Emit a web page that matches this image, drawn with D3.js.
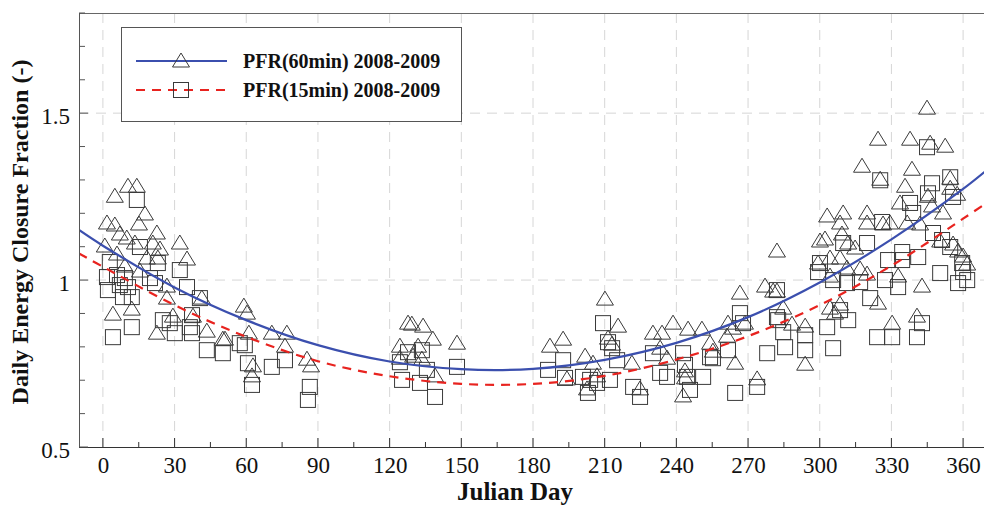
<!DOCTYPE html>
<html>
<head>
<meta charset="utf-8">
<script src="https://cdn.jsdelivr.net/npm/d3@7"></script>
<style>
html,body{margin:0;padding:0;background:#fff;}
svg{display:block;}
text{font-family:"Liberation Serif","Times New Roman",serif;}
</style>
</head>
<body>
<svg id="chart" width="984" height="508"></svg>
<script>
// ---- Data ----
const pfr60 = [
 [5.0,1.254],[10.5,1.284],[14.2,1.284],[17.6,1.201],[1.7,1.174],[5.0,1.168],[15.1,1.171],[22.6,1.144],
 [7.1,1.141],[10.0,1.129],[0.8,1.105],[13.4,1.114],[20.9,1.114],[23.9,1.096],[32.2,1.114],[5.9,1.081],
 [35.2,1.066],[18.4,1.069],[23.0,1.069],[26.8,0.985],[41.4,0.949],[26.8,0.949],[4.2,0.901],[12.1,0.916],
 [29.3,0.895],[37.7,0.895],[22.6,0.844],[43.5,0.850],[50.2,0.826],[9.2,1.045],[15.5,1.030],
 [59.0,0.925],[60.3,0.904],[61.1,0.844],[51.1,0.826],[70.7,0.844],[77.0,0.844],[76.2,0.805],[62.8,0.746],
 [62.4,0.716],[85.4,0.766],[87.1,0.746],
 [127.7,0.874],[129.3,0.871],[134.0,0.865],[124.3,0.805],[131.9,0.805],[138.1,0.826],[124.3,0.769],
 [129.8,0.775],[133.5,0.766],[139.0,0.716],[148.2,0.814],
 [187.1,0.805],[192.6,0.826],[201.8,0.775],[205.1,0.754],[210.1,0.946],[215.6,0.865],[211.4,0.829],
 [213.1,0.811],[221.4,0.754],[194.2,0.707],[202.6,0.677],[206.8,0.716],[224.8,0.677],[242.8,0.656],
 [230.2,0.844],[234.0,0.844],[238.6,0.874],[244.9,0.856],[250.7,0.856],[233.2,0.799],[236.1,0.769],
 [254.1,0.814],[255.3,0.790],[243.6,0.731],[243.6,0.710],[266.6,0.964],[261.6,0.874],[263.7,0.859],
 [268.7,0.874],[261.2,0.835],[264.6,0.754],[273.8,0.707],[277.1,0.985],[280.5,0.970],
 [344.9,1.518],[324.4,1.425],[337.8,1.425],[346.2,1.413],[352.5,1.404],[317.7,1.344],[325.3,1.305],
 [338.6,1.335],[335.7,1.284],[354.6,1.308],[354.6,1.278],[333.6,1.234],[345.3,1.254],[347.0,1.225],
 [357.5,1.260],[351.6,1.204],[303.1,1.195],[309.8,1.204],[319.8,1.204],[308.5,1.174],[319.8,1.174],
 [326.5,1.171],[329.4,1.174],[336.6,1.174],[342.0,1.171],[282.1,1.090],[300.1,1.120],[302.2,1.126],
 [309.3,1.141],[311.9,1.114],[299.3,1.054],[304.3,1.069],[308.5,1.069],[314.8,1.099],[316.9,1.036],
 [319.8,1.021],[304.3,1.015],[311.4,1.039],[350.4,1.120],[355.8,1.111],[357.9,1.090],[360.0,1.075],
 [361.7,1.051],[332.8,1.015],[342.8,0.985],[282.1,0.970],[284.7,0.919],[324.4,0.934],[304.3,0.919],
 [306.4,0.904],[308.5,0.931],[293.9,0.865],[288.4,0.871],[330.3,0.874],[340.7,0.895],[293.9,0.751]
];
const pfr15 = [
 [14.2,1.240],[15.5,1.099],[23.0,1.051],[32.2,1.030],[1.7,1.009],[5.9,1.015],[9.2,1.006],[2.1,0.970],
 [7.1,0.985],[10.5,0.979],[8.4,0.949],[12.1,0.949],[19.7,1.006],[21.8,0.991],[35.2,0.979],[40.6,0.946],
 [25.1,0.880],[28.0,0.871],[30.1,0.841],[37.3,0.841],[37.3,0.895],[36.4,0.859],[4.2,0.829],[12.1,0.859],
 [43.5,0.790],[50.2,0.781],[57.3,0.811],[2.9,1.054],
 [59.4,0.805],[60.7,0.751],[62.4,0.686],[70.7,0.740],[76.2,0.760],[86.6,0.680],[85.8,0.641],
 [125.2,0.701],[132.7,0.692],[135.6,0.731],[139.0,0.650],[127.7,0.784],[133.5,0.790],[148.2,0.740],[124.3,0.754],
 [186.3,0.731],[192.6,0.760],[193.4,0.707],[200.9,0.710],[203.9,0.701],[206.8,0.692],[212.2,0.701],
 [209.3,0.871],[211.4,0.814],[213.1,0.796],[215.2,0.760],[203.0,0.662],[221.9,0.680],[224.8,0.650],
 [230.2,0.781],[233.2,0.722],[236.1,0.710],[242.8,0.781],[243.6,0.746],[244.5,0.710],[245.7,0.671],
 [251.2,0.710],[254.1,0.769],[255.3,0.766],[261.6,0.790],[266.6,0.901],[267.9,0.871],[264.6,0.662],
 [273.8,0.680],[278.0,0.781],[282.1,0.889],
 [344.9,1.398],[325.3,1.299],[354.6,1.308],[347.0,1.290],[345.3,1.260],[355.8,1.249],[337.8,1.231],
 [339.1,1.201],[326.1,1.174],[319.8,1.111],[309.8,1.111],[347.4,1.141],[351.2,1.120],[354.6,1.099],
 [359.6,1.051],[360.0,1.024],[361.7,1.000],[357.9,0.991],[350.4,1.021],[328.6,1.060],[334.5,1.084],
 [334.5,1.060],[341.2,1.069],[300.1,1.051],[299.3,1.024],[305.6,1.000],[311.4,0.991],[316.9,0.994],
 [327.3,1.000],[332.8,0.979],[321.1,0.946],[282.1,0.970],[282.6,0.880],[293.9,0.835],[284.7,0.844],
 [303.1,0.859],[305.6,0.796],[311.9,0.880],[308.5,0.910],[324.0,0.829],[330.3,0.829],[340.7,0.829],
 [342.8,0.871],[285.5,0.799],[293.9,0.790]
];
// Trend curves at sample days
const fitDays = [-10, 0, 30, 60, 90, 120, 150, 180, 210, 240, 270, 300, 330, 360, 370];
const fit60   = [1.150, 1.103, 0.978, 0.880, 0.805, 0.756, 0.733, 0.734, 0.761, 0.812, 0.889, 0.993, 1.122, 1.273, 1.330];
const fit15   = [1.080, 1.040, 0.925, 0.830, 0.757, 0.712, 0.689, 0.689, 0.713, 0.762, 0.832, 0.925, 1.043, 1.184, 1.232];
const xTicks = [0, 30, 60, 90, 120, 150, 180, 210, 240, 270, 300, 330, 360];
const yTicks = [0.5, 1, 1.5];
const legendLabels = ["PFR(60min) 2008-2009", "PFR(15min) 2008-2009"];
const xTitle = "Julian Day";
const yTitle = "Daily Energy Closure Fraction (-)";

// ---- Layout ----
const svg = d3.select("#chart");
const L = 79, T = 13, B = 447, R = 987;
const x = d3.scaleLinear().domain([-10, 370]).range([L, R]);
const y = d3.scaleLinear().domain([0.5, 1.8]).range([B, T]);

const blue = "#3b4fae", red = "#e8231f", markC = "#3a3a3a";

// grid
const grid = svg.append("g");
grid.selectAll("line.v").data(xTicks).join("line")
  .attr("x1", d => x(d)).attr("x2", d => x(d)).attr("y1", T).attr("y2", B)
  .attr("stroke", "#d6d6d6").attr("stroke-width", 1).attr("stroke-dasharray", "10,7");
grid.selectAll("line.h").data(yTicks.filter(v => v > 0.5)).join("line")
  .attr("x1", L).attr("x2", R).attr("y1", d => y(d)).attr("y2", d => y(d))
  .attr("stroke", "#d6d6d6").attr("stroke-width", 1).attr("stroke-dasharray", "10,7");

// frame
svg.append("line").attr("x1", L).attr("x2", R).attr("y1", T + 0.5).attr("y2", T + 0.5).attr("stroke", "#666");

// clip
svg.append("defs").append("clipPath").attr("id", "clip")
  .append("rect").attr("x", L).attr("y", T).attr("width", R - L).attr("height", B - T);

const plot = svg.append("g").attr("clip-path", "url(#clip)");

const triPath = "M0,-7L8.5,7L-8.5,7Z";
// markers
plot.append("g").selectAll("path").data(pfr60).join("path")
  .attr("d", triPath)
  .attr("transform", d => `translate(${x(d[0])},${y(d[1])})`)
  .attr("fill", "none").attr("stroke", markC).attr("stroke-width", 1);
plot.append("g").selectAll("rect").data(pfr15).join("rect")
  .attr("x", d => x(d[0]) - 7.5).attr("y", d => y(d[1]) - 7.5)
  .attr("width", 15).attr("height", 15)
  .attr("fill", "none").attr("stroke", markC).attr("stroke-width", 1);

// curves
const line = d3.line().curve(d3.curveCatmullRom);
plot.append("path")
  .attr("d", line(fitDays.map((d, i) => [x(d), y(fit15[i])])))
  .attr("fill", "none").attr("stroke", red).attr("stroke-width", 2.2).attr("stroke-dasharray", "9,7");
plot.append("path")
  .attr("d", line(fitDays.map((d, i) => [x(d), y(fit60[i])])))
  .attr("fill", "none").attr("stroke", blue).attr("stroke-width", 2.2);

// axes
const xAxis = d3.axisBottom(x).tickValues(xTicks).tickSize(0).tickPadding(10).tickFormat(d3.format("d"));
const gx = svg.append("g").attr("transform", `translate(0,${B})`).call(xAxis);
gx.select(".domain").remove();
gx.selectAll("text").attr("font-size", 23).attr("fill", "#111").attr("font-family", "Liberation Serif");
svg.append("line").attr("x1", L).attr("x2", R).attr("y1", B + 0.5).attr("y2", B + 0.5).attr("stroke", "#333");
const xMinor = d3.range(0, 371, 15);
svg.append("g").selectAll("line").data(xMinor).join("line")
  .attr("x1", d => x(d)).attr("x2", d => x(d))
  .attr("y1", B).attr("y2", d => d % 30 === 0 ? B - 9 : B - 5)
  .attr("stroke", "#333");

const yAxis = d3.axisLeft(y).tickValues(yTicks).tickSize(0).tickPadding(9).tickFormat(d => d3.format("")(d));
const gy = svg.append("g").attr("transform", `translate(${L},0)`).call(yAxis);
gy.select(".domain").remove();
gy.selectAll("text").attr("font-size", 23).attr("fill", "#111").attr("font-family", "Liberation Serif").attr("dy", "0.45em");
svg.append("line").attr("x1", L + 0.5).attr("x2", L + 0.5).attr("y1", T).attr("y2", B).attr("stroke", "#555");
const yMinor = d3.range(5, 18.01, 1).map(v => v / 10);
svg.append("g").selectAll("line").data(yMinor).join("line")
  .attr("x1", L).attr("x2", d => (Math.round(d * 10) % 5 === 0) ? L + 9 : L + 6)
  .attr("y1", d => y(d)).attr("y2", d => y(d))
  .attr("stroke", "#555");

// titles
svg.append("text").attr("x", 515).attr("y", 500).attr("text-anchor", "middle")
  .attr("font-size", 25).attr("font-weight", "bold").attr("fill", "#111").text(xTitle);
svg.append("text").attr("transform", `translate(28,232) rotate(-90)`).attr("text-anchor", "middle")
  .attr("font-size", 24).attr("font-weight", "bold").attr("fill", "#111").text(yTitle);

// legend
const lg = svg.append("g");
lg.append("rect").attr("x", 121.5).attr("y", 27.5).attr("width", 340).attr("height", 94)
  .attr("fill", "#fff").attr("stroke", "#555").attr("stroke-width", 1);
const rows = [
  {y: 61, color: blue, dash: null, mark: "tri"},
  {y: 90, color: red, dash: "9,7", mark: "sq"}
];
rows.forEach((r, i) => {
  lg.append("line").attr("x1", 136).attr("x2", 227).attr("y1", r.y).attr("y2", r.y)
    .attr("stroke", r.color).attr("stroke-width", 2.2).attr("stroke-dasharray", r.dash);
  if (r.mark === "tri") {
    lg.append("path").attr("d", triPath).attr("transform", `translate(181,${r.y - 1})`)
      .attr("fill", "none").attr("stroke", markC);
  } else {
    lg.append("rect").attr("x", 181 - 7.5).attr("y", r.y - 7.5).attr("width", 15).attr("height", 15)
      .attr("fill", "none").attr("stroke", markC);
  }
  lg.append("text").attr("x", 243).attr("y", r.y + 7).attr("font-size", 20).attr("font-weight", "bold")
    .attr("fill", "#111").text(legendLabels[i]);
});
</script>
</body>
</html>
